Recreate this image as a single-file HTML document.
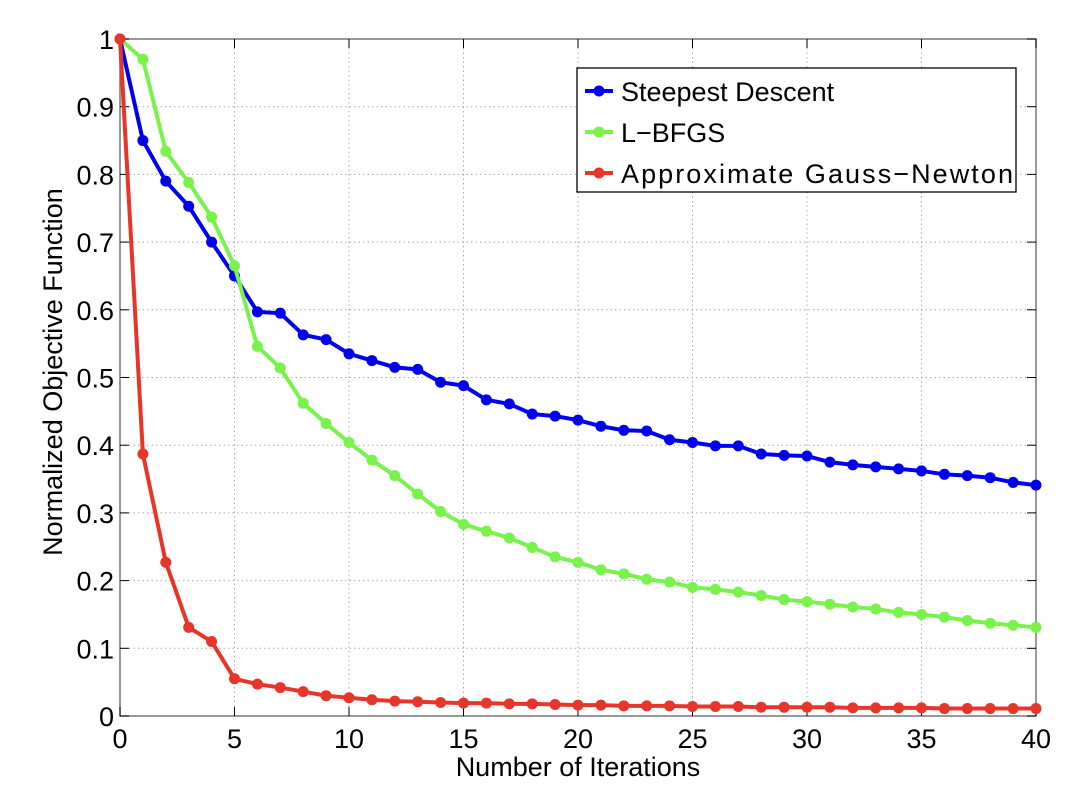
<!DOCTYPE html>
<html><head><meta charset="utf-8"><style>
body{margin:0;background:#fff;}
svg{display:block;font-family:"Liberation Sans",Arial,sans-serif;}
</style></head><body>
<svg id="chart" width="1086" height="810"></svg>
<script>
const iterations=[...Array(41).keys()];
const xTicks=[0,5,10,15,20,25,30,35,40];
const yTicks=[0,0.1,0.2,0.3,0.4,0.5,0.6,0.7,0.8,0.9,1];
const yTickLabels=["0","0.1","0.2","0.3","0.4","0.5","0.6","0.7","0.8","0.9","1"];
const steepest=[1,.85,.79,.753,.70,.65,.597,.595,.563,.556,.535,.525,.515,.512,.493,.488,.467,.461,.446,.443,.437,.428,.422,.421,.408,.404,.399,.399,.387,.385,.384,.375,.371,.368,.365,.362,.357,.355,.352,.345,.341];
const lbfgs=[1,.97,.834,.788,.737,.665,.546,.514,.462,.432,.404,.378,.355,.328,.302,.283,.273,.263,.249,.235,.227,.216,.210,.202,.198,.190,.187,.183,.178,.172,.169,.165,.161,.158,.153,.150,.146,.141,.137,.134,.131];
const gaussNewton=[1,.387,.227,.131,.11,.055,.047,.042,.036,.030,.027,.024,.022,.021,.020,.019,.019,.018,.018,.017,.016,.016,.015,.015,.015,.014,.014,.014,.013,.013,.013,.013,.012,.012,.012,.012,.011,.011,.011,.011,.011];
const seriesNames=["Steepest Descent","L\u2212BFGS","Approximate Gauss\u2212Newton"];
const L=120,R=1036,T=39,B=716;
const sx=v=>L+(v-0)/(40-0)*(R-L);
const sy=v=>B-(v-0)/(1-0)*(B-T);
const svg=document.getElementById('chart');
const NS='http://www.w3.org/2000/svg';
function mk(tag,attrs,parent){const e=document.createElementNS(NS,tag);for(const k in attrs)e.setAttribute(k,attrs[k]);(parent||svg).appendChild(e);return e;}
xTicks.forEach(t=>{if(t>0&&t<40){const g=mk('line',{x1:sx(t),x2:sx(t),y1:T,y2:B,stroke:'#aaa','stroke-dasharray':'1.5,3','stroke-width':1});

}});
yTicks.forEach(t=>{if(t>0&&t<1){const g=mk('line',{x1:L,x2:R,y1:sy(t),y2:sy(t),stroke:'#aaa','stroke-dasharray':'1.5,3','stroke-width':1});

}});
const box=mk('rect',{x:L,y:T,width:R-L,height:B-T,fill:'none',stroke:'#777','stroke-width':1.5});


xTicks.forEach(t=>{
 mk('line',{x1:sx(t),x2:sx(t),y1:B,y2:B-9,stroke:'#000'});
 mk('line',{x1:sx(t),x2:sx(t),y1:T,y2:T+9,stroke:'#000'});
 const tx=mk('text',{x:sx(t),y:B+32,'text-anchor':'middle','font-size':27});tx.textContent=t;
 
 
});
yTicks.forEach((t,i)=>{
 mk('line',{x1:L,x2:L+9,y1:sy(t),y2:sy(t),stroke:'#000'});
 mk('line',{x1:R,x2:R-9,y1:sy(t),y2:sy(t),stroke:'#000'});
 const tx=mk('text',{x:L-6,y:sy(t)+10,'text-anchor':'end','font-size':27});tx.textContent=yTickLabels[i];
 
 
});
const xl=mk('text',{x:578,y:776,'text-anchor':'middle','font-size':27});xl.textContent='Number of Iterations';


const yl=mk('text',{x:0,y:0,'text-anchor':'middle','font-size':27,transform:'translate(62,372) rotate(-90)'});yl.textContent='Normalized Objective Function';


const colors=['#0000ee','#77f34a','#e8352a'];
const names=['steepest-descent','l-bfgs','approximate-gauss-newton'];
[steepest,lbfgs,gaussNewton].forEach((s,k)=>{
 const g=mk('g',{});
 
 
 mk('polyline',{points:s.map((v,i)=>sx(iterations[i])+','+sy(v)).join(' '),fill:'none',stroke:colors[k],'stroke-width':4,'stroke-linejoin':'round'},g);
 s.forEach((v,i)=>{const c=mk('circle',{cx:sx(iterations[i]),cy:sy(v),r:5.5,fill:colors[k]},g);
  
  });
});
const lg=mk('g',{});


mk('rect',{x:577,y:68,width:439,height:124,fill:'#fff',stroke:'#000','stroke-width':1.3},lg);
seriesNames.forEach((n,k)=>{
 const y=91+k*41;
 const e=mk('g',{},lg);
 
 
 mk('line',{x1:585,x2:613,y1:y,y2:y,stroke:colors[k],'stroke-width':4},e);
 mk('circle',{cx:599,cy:y,r:5.5,fill:colors[k]},e);
 const t=mk('text',{x:621,y:y+10,'font-size':27,textLength:n.length>20?392:null},e);t.textContent=n;
 if(k===2)t.setAttribute('textLength','392');
});
</script>
</body></html>
